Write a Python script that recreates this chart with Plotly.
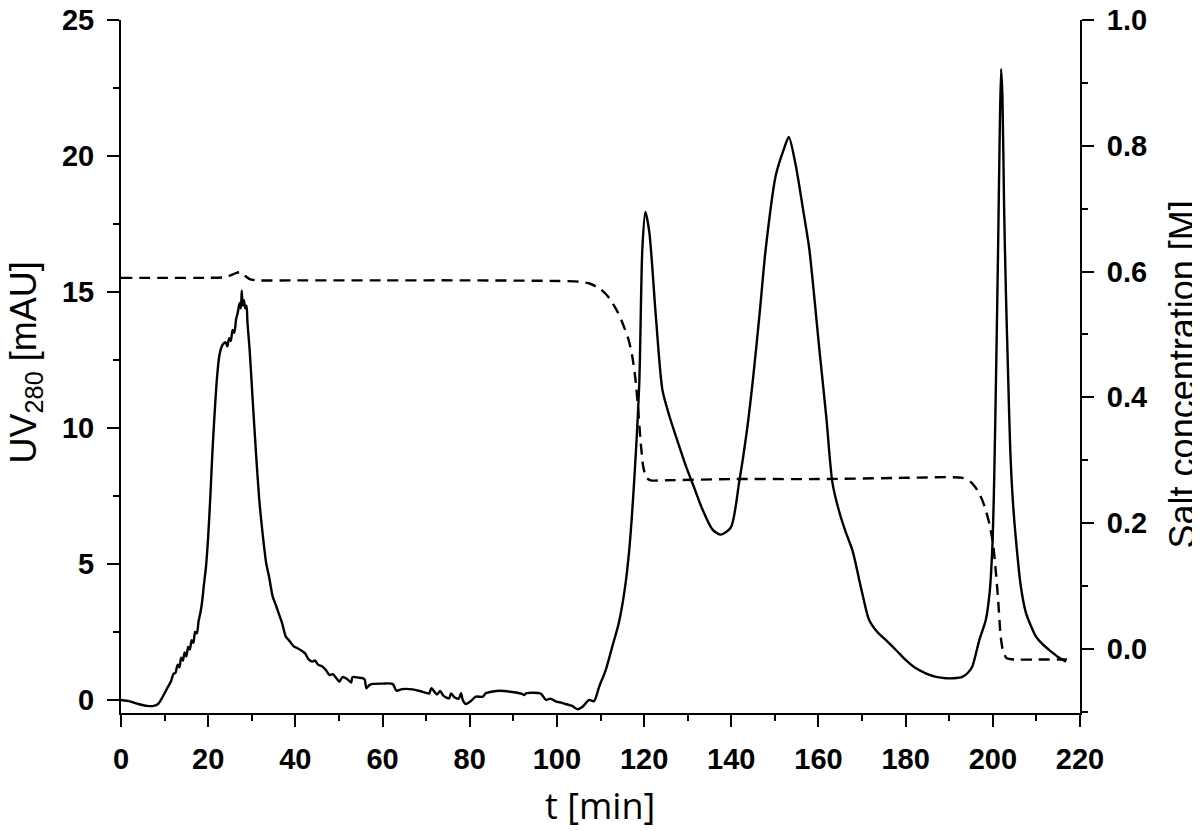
import plotly.graph_objects as go

#### UV280 trace (solid line, left axis) #######
t_uv = [0, 2, 4, 6, 7.5, 8.5, 9.5, 10.5, 11.5, 12.0, 12.5, 13.0, 13.4, 13.8, 14.2, 14.6,
        15.0, 15.4, 15.8, 16.2, 16.6, 17.0, 17.4, 17.8, 18.2, 18.6, 19.0, 19.5, 20.0, 20.5,
        21.0, 21.5, 22.0, 22.5, 23.0, 23.5, 24.0, 24.4, 24.8, 25.2, 25.6, 26.0, 26.4, 26.8,
        27.2, 27.5, 27.7, 27.9, 28.2, 28.5, 28.8, 29.0, 29.5, 30.2, 31.0, 31.7, 32.5, 33.3,
        34.0, 34.8, 35.5, 36.3, 37.0, 37.8, 38.5, 39.7, 40.5, 41.7, 42.3, 43.0, 43.9, 44.5,
        45.2, 46.2, 47.0, 47.8, 48.6, 49.4, 50.1, 50.8, 51.8, 52.8, 53.1, 54.5, 55.4, 55.9,
        56.3, 57.0, 57.7, 60.0, 62.3, 63.2, 64.5, 66.9, 68.5, 70.0, 70.7, 71.2, 72.5, 73.2,
        74.0, 75.3, 75.7, 76.5, 77.5, 78.0, 78.4, 79.1, 80.2, 81.4, 83.0, 83.7, 85.0, 86.8,
        89.8, 92.0, 92.5, 93.0, 96.3, 97.5, 98.5, 99.8, 101.0, 102.0, 103.5, 104.7, 105.9,
        107.4, 108.5, 109.7, 111.2, 112.7, 114.2, 115.5, 116.6, 117.7, 118.9, 119.6, 120.3,
        121.2, 122.7, 124.2, 125.8, 127.5, 129.6, 131.5, 133.4, 135.7, 137.6, 139.9, 141.8,
        143.5, 144.9, 146.5, 147.9, 150.2, 152.1, 153.2, 154.8, 156.5, 157.9, 160.2, 161.8,
        163.2, 164.8, 166.3, 167.8, 169.8, 171.6, 173.5, 175.5, 178.0, 180.0, 182.0, 184.6,
        187.0, 189.2, 191.0, 193.0, 194.3, 195.3, 196.9, 198.4, 199.3, 199.9, 200.3, 200.8,
        201.2, 201.6, 201.9, 202.2, 202.6, 203.0, 203.5, 204.0, 204.6, 205.3, 206.4, 207.6,
        208.8, 209.9, 211.4, 212.9, 214.8, 216.8]
uv = [0.0, -0.05, -0.15, -0.22, -0.22, -0.15, 0.1, 0.4, 0.7, 0.95, 1.0, 1.3, 1.2, 1.55, 1.45,
      1.75, 1.6, 1.95, 1.85, 2.2, 2.1, 2.5, 2.45, 2.9, 3.2, 3.6, 4.2, 4.9, 6.0, 7.5,
      9.2, 10.6, 11.8, 12.6, 12.95, 13.1, 13.15, 13.0, 13.3, 13.2, 13.6, 13.5, 14.0, 14.25,
      14.6, 14.4, 15.05, 14.5, 14.7, 14.4, 14.5, 13.9, 12.9, 11.05, 9.0, 7.4, 6.1, 5.04,
      4.5, 3.8, 3.5, 3.13, 2.8, 2.33, 2.2, 1.96, 1.9, 1.78, 1.7, 1.5, 1.41, 1.45,
      1.3, 1.23, 1.1, 0.92, 0.95, 0.8, 0.67, 0.84, 0.78, 0.64, 0.84, 0.82, 0.8, 0.75,
      0.43, 0.55, 0.59, 0.6, 0.59, 0.34, 0.4, 0.39, 0.33, 0.26, 0.24, 0.43, 0.2, 0.33,
      0.15, 0.06, 0.24, 0.1, 0.05, 0.25, 0.0, -0.15, -0.05, 0.12, 0.12, 0.25, 0.3, 0.34,
      0.29, 0.22, 0.18, 0.25, 0.23, 0.0, 0.05, -0.06, -0.1, -0.15, -0.22, -0.34, -0.25,
      0.0, -0.05, 0.49, 1.1, 1.96, 2.83, 4.0, 5.53, 7.99, 11.68, 16.6, 17.94,
      17.2, 14.1, 11.4, 10.44, 9.6, 8.6, 7.8, 7.0, 6.26, 6.08, 6.34, 7.99,
      9.8, 11.68, 14.2, 16.58, 19.28, 20.27, 20.7, 19.65, 18.0, 16.58, 12.9, 10.4,
      7.99, 6.9, 6.15, 5.5, 4.1, 2.95, 2.5, 2.2, 1.8, 1.47, 1.2, 0.98,
      0.85, 0.8, 0.8, 0.85, 1.0, 1.23, 2.2, 2.95, 4.0, 5.65, 8.0, 12.5,
      16.5, 21.0, 23.2, 22.2, 18.0, 15.0, 12.0, 9.2, 7.3, 5.9, 4.2, 3.2,
      2.7, 2.33, 2.05, 1.84, 1.6, 1.41]

#### Salt concentration (dashed line, right axis) #######
t_salt = [0, 10, 20, 24, 25.5, 26.5, 27.5, 28.5, 29.5, 31, 40, 60, 80, 100, 105, 107.5, 110,
          112, 114, 115.5, 116.5, 117.3, 118, 118.6, 119.2, 119.8, 120.5, 121.5, 125, 140,
          160, 180, 190, 193, 195, 196.5, 197.5, 198.5, 199.3, 200, 200.6, 201.2, 201.8,
          202.4, 203.2, 205, 210, 217]
salt = [0.59, 0.59, 0.59, 0.591, 0.595, 0.598, 0.599, 0.593, 0.588, 0.586, 0.586, 0.586,
        0.586, 0.585, 0.584, 0.581, 0.572, 0.558, 0.535, 0.51, 0.49, 0.465, 0.43, 0.385,
        0.33, 0.29, 0.272, 0.268, 0.268, 0.27, 0.27, 0.272, 0.273, 0.272, 0.265, 0.252,
        0.238, 0.218, 0.196, 0.17, 0.13, 0.08, 0.02, -0.005, -0.015, -0.017, -0.017, -0.017]

tick_font = dict(family="Liberation Sans, Arial", size=29, color="black", weight="bold")
title_font = dict(family="Liberation Sans, Arial", size=36, color="black")

fig = go.Figure()
fig.add_trace(go.Scatter(x=t_uv, y=uv, mode="lines",
                         line=dict(color="black", width=2.4, shape="spline", smoothing=0.7),
                         showlegend=False))
fig.add_trace(go.Scatter(x=t_salt, y=salt, mode="lines", yaxis="y2",
                         line=dict(color="black", width=2.4, dash="11px,7px",
                                   shape="spline", smoothing=0.6),
                         showlegend=False))

axis_common = dict(showgrid=False, zeroline=False, showline=True, linecolor="black",
                   linewidth=2, ticks="outside", ticklen=12, tickwidth=2, automargin=False,
                   tickcolor="black", tickfont=tick_font, ticklabelstandoff=7,
                   ticklabeloverflow="allow")

# the page body has an 8px margin, so the figure is made 8px smaller and shifted back
fig.update_layout(
    width=1192, height=823,
    paper_bgcolor="white", plot_bgcolor="white",
    margin=dict(l=113, r=120, t=12, b=118, autoexpand=False),
    xaxis=dict(range=[0, 220], dtick=20, tick0=0,
               minor=dict(dtick=10, ticks="outside", ticklen=6, tickwidth=2, tickcolor="black"),
               **axis_common),
    yaxis=dict(range=[-0.48, 25], dtick=5, tick0=0,
               minor=dict(dtick=2.5, ticks="outside", ticklen=6, tickwidth=2, tickcolor="black"),
               **axis_common),
    yaxis2=dict(range=[-0.102, 1.0], dtick=0.2, tick0=0, tickformat=".1f",
                overlaying="y", side="right",
                minor=dict(dtick=0.1, ticks="outside", ticklen=6, tickwidth=2, tickcolor="black"),
                **axis_common),
    annotations=[
        dict(text="UV<sub>280</sub> [mAU]", xref="paper", yref="paper", x=-0.099, y=0.506,
             textangle=-90, showarrow=False, font=title_font, xanchor="center", yanchor="middle"),
        dict(text="Salt concentration [M]", xref="paper", yref="paper", x=1.107, y=0.488,
             textangle=-90, showarrow=False, font=title_font, xanchor="center", yanchor="middle"),
        dict(text="t [min]", xref="paper", yref="paper", x=0.4995, y=-0.133,
             showarrow=False, font=dict(family="Open Sans", size=36, color="black"),
             xanchor="center", yanchor="middle"),
    ],
)

fig.write_html("out.html")
